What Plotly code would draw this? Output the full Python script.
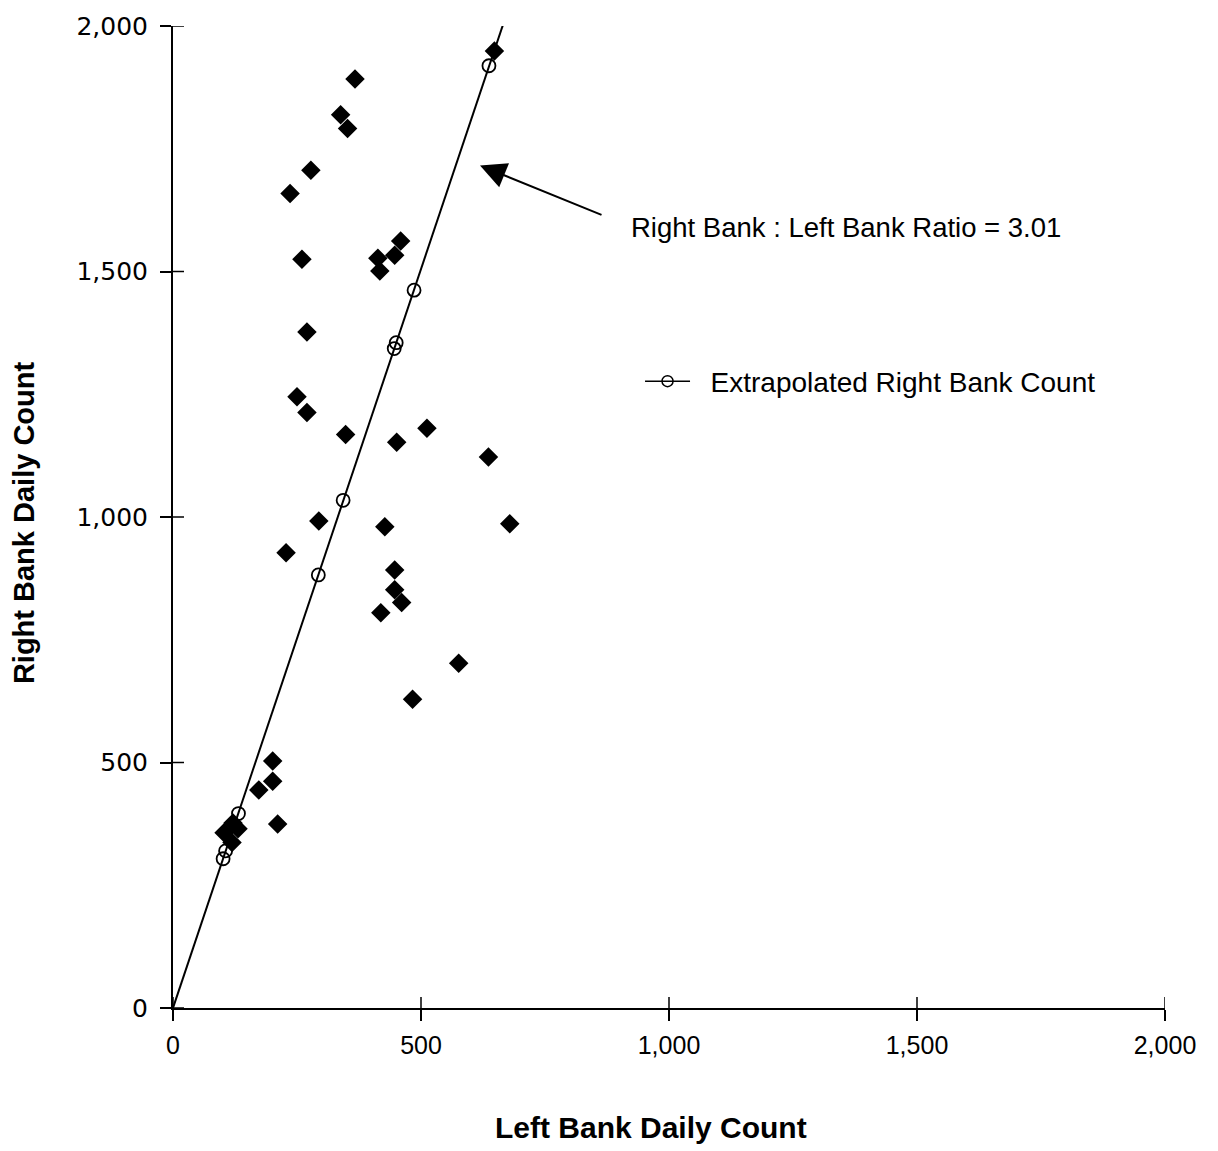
import plotly.graph_objects as go

# Observed daily counts (left bank vs right bank)
left_observed = [648, 367, 338, 352, 278, 236, 260, 413, 447, 459, 417, 270, 250, 270,
                 348, 451, 512, 636, 294, 427, 679, 228, 447, 447, 461, 419, 576, 483,
                 201, 201, 173, 211, 121, 103, 119, 131]
right_observed = [1949, 1892, 1819, 1791, 1706, 1659, 1525, 1527, 1533, 1562, 1501, 1377,
                  1245, 1213, 1168, 1152, 1181, 1122, 992, 980, 986, 927, 892, 852, 826,
                  805, 702, 629, 503, 462, 444, 375, 377, 357, 337, 365]

# Extrapolated right bank counts
left_extrap = [637, 486, 450, 446, 343, 293, 132, 106, 101]
right_extrap = [1919, 1462, 1355, 1343, 1034, 882, 396, 320, 304]

# Ratio line (right bank : left bank)
ratio = 3.01
ratio_left = [0, 670]

x_ticks = [0, 500, 1000, 1500, 2000]
x_tick_labels = ["0", "500", "1,000", "1,500", "2,000"]
y_ticks = [0, 500, 1000, 1500, 2000]
y_tick_labels = ["0", "500", "1,000", "1,500", "2,000"]

fig = go.Figure()

fig.add_trace(go.Scatter(
    x=ratio_left, y=[ratio * v for v in ratio_left],
    mode="lines", line=dict(color="black", width=2),
    showlegend=False, hoverinfo="skip",
))

fig.add_trace(go.Scatter(
    x=left_observed, y=right_observed, mode="markers",
    marker=dict(symbol="diamond", size=15, color="black"),
    showlegend=False,
))

fig.add_trace(go.Scatter(
    x=left_extrap, y=right_extrap, mode="markers",
    marker=dict(symbol="circle-open", size=13, color="black",
                line=dict(width=1.8, color="black")),
    showlegend=False,
))

# Legend entry: line with open circle
fig.add_trace(go.Scatter(
    x=[None], y=[None], mode="lines+markers",
    name="\u00a0\u00a0Extrapolated Right Bank Count",
    line=dict(color="black", width=1.5),
    marker=dict(symbol="circle-open", size=11, color="black",
                line=dict(width=1.5, color="black")),
))

# Inner halves of the tick marks (outer halves come from the axes)
shapes = []
for v in x_ticks:
    shapes.append(dict(type="line", xref="x", yref="y", x0=v, x1=v,
                       ysizemode="pixel", yanchor=0, y0=0, y1=11,
                       line=dict(color="black", width=1.5)))
for v in y_ticks:
    shapes.append(dict(type="line", xref="x", yref="y", y0=v, y1=v,
                       xsizemode="pixel", xanchor=0, x0=0, x1=11,
                       line=dict(color="black", width=1.5)))

annotations = [
    dict(x=619, y=1716, xref="x", yref="y", ax=123, ay=50, axref="pixel",
         text="", showarrow=True, arrowhead=2, arrowsize=2.6, arrowwidth=2,
         arrowcolor="black"),
    dict(x=0.4597, y=0.795, xref="paper", yref="paper", xanchor="left",
         yanchor="middle", showarrow=False,
         text="Right Bank : Left Bank Ratio = 3.01",
         font=dict(family="Liberation Sans", size=27.5, color="black")),
    dict(x=0.4819, y=-0.1217, xref="paper", yref="paper", xanchor="center",
         yanchor="middle", showarrow=False, text="<b>Left Bank Daily Count</b>",
         font=dict(family="Liberation Sans", size=30, color="black")),
    dict(x=-0.150, y=0.494, xref="paper", yref="paper", xanchor="center",
         yanchor="middle", showarrow=False, textangle=-90,
         text="<b>Right Bank Daily Count</b>",
         font=dict(family="Liberation Sans", size=29, color="black")),
]

fig.update_layout(
    width=1218, height=1151,
    margin=dict(l=173, r=53, t=22, b=143),
    paper_bgcolor="white", plot_bgcolor="white",
    shapes=shapes, annotations=annotations,
    showlegend=True,
    legend=dict(x=0.4708, y=0.638, xanchor="left", yanchor="middle",
                bgcolor="rgba(0,0,0,0)", itemwidth=45,
                font=dict(family="Liberation Sans", size=28, color="black")),
    xaxis=dict(range=[0, 2000], showgrid=False, zeroline=False, showline=True,
               linecolor="black", linewidth=2, ticks="outside", ticklen=11,
               tickwidth=1.5, tickcolor="black",
               tickvals=x_ticks, ticktext=x_tick_labels, ticklabelstandoff=3,
               tickfont=dict(family="Liberation Sans", size=25, color="black")),
    yaxis=dict(range=[0, 2000], showgrid=False, zeroline=False, showline=True,
               linecolor="black", linewidth=2, ticks="outside", ticklen=11,
               tickwidth=1.5, tickcolor="black",
               tickvals=y_ticks, ticktext=y_tick_labels, ticklabelstandoff=7,
               tickfont=dict(family="DejaVu Sans", size=25, color="black")),
)

fig.write_html("out.html")
